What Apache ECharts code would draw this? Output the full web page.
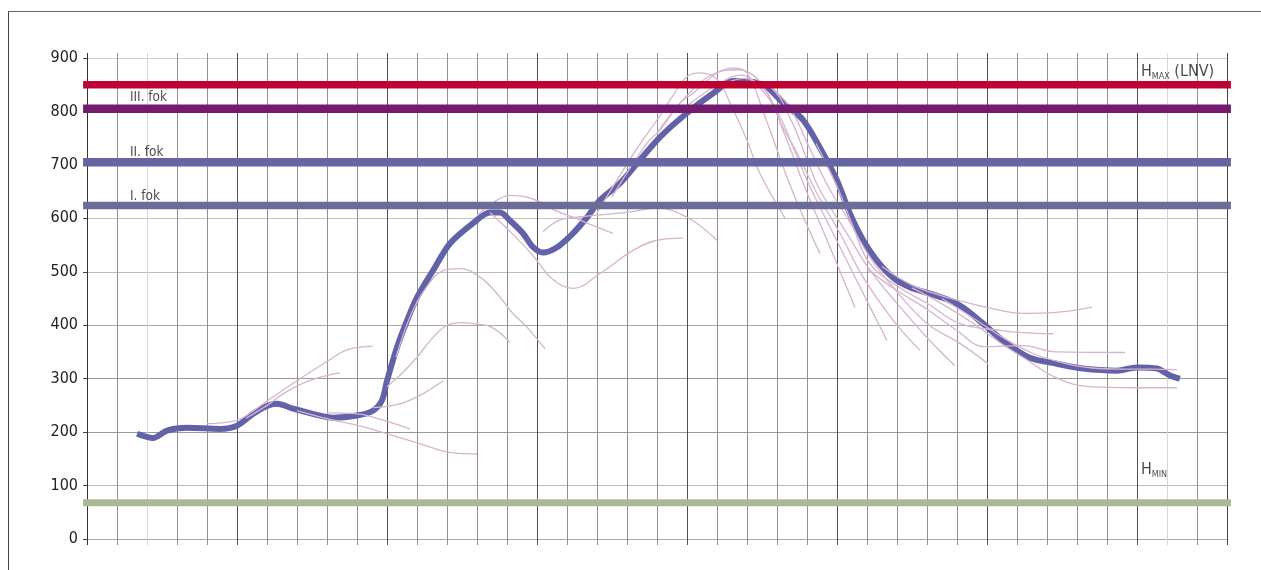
<!DOCTYPE html>
<html><head><meta charset="utf-8">
<script src="https://cdn.jsdelivr.net/npm/echarts@6/dist/echarts.min.js"></script>
<style>
html,body{margin:0;padding:0;background:#fff;}
#wrap{position:relative;width:1261px;height:570px;}
#frame{position:absolute;left:8px;top:11px;right:0;bottom:0;border-top:1.5px solid #666;border-left:1.5px solid #444;}
#chart{position:absolute;left:0;top:0;width:1261px;height:570px;}
</style></head>
<body><div id="wrap"><div id="frame"></div><div id="chart"></div></div>
<script>
// ---- data ----
const xMin = 0, xMax = 38;
const yTicks = [0,100,200,300,400,500,600,700,800,900];
const levels = { hmax: 850, fok3: 805, fok2: 705, fok1: 624, hmin: 68 };
const levelLabels = ['III. fok','II. fok','I. fok'];

const mainLine = [[1.67,197],[2.2,189],[2.67,203],[3.33,208],[4.43,206],[5,212],[5.53,234],[6,249],[6.33,253],[6.87,244],[7.53,234],[8.2,227],[9,231],[9.53,240],[9.83,259],[10,296],[10.33,358],[10.67,409],[11,452],[11.53,502],[12.1,553],[12.87,591],[13.43,611],[13.77,611],[14.1,596],[14.53,572],[14.87,546],[15.2,536],[15.67,546],[16.2,572],[16.67,602],[17.1,634],[17.77,666],[18.43,709],[19.1,752],[20,797],[20.87,834],[21.53,857],[22.2,855],[22.67,845],[23.2,816],[23.87,784],[24.53,722],[25,671],[25.43,609],[25.87,559],[26.33,521],[26.87,489],[27.43,471],[28.1,459],[28.77,446],[29.2,433],[29.87,403],[30.53,371],[31.43,339],[32.33,328],[33.2,319],[34.33,315],[35,321],[35.67,319],[36.1,306],[36.43,300]];

const p01 = [[4,216],[5,222],[5.5,238],[6,258],[7,296],[8,332],[8.67,354],[9.53,361]];
const p02 = [[5.3,226],[6,250],[6.6,274],[7.5,298],[8.43,311]];
const p03 = [[7,240],[8,225],[9,213],[10,197],[11,180],[12.2,161],[13,159]];
const p04 = [[8,236],[9,234],[10,220],[10.77,206]];
const p05 = [[9.53,246],[10.43,253],[11.2,272],[11.87,296]];
const p06 = [[10,285],[10.5,310],[11,340],[11.5,375],[12,400],[12.5,405],[13,402],[13.5,396],[14.1,368]];
const p07 = [[10.3,340],[10.8,420],[11.3,470],[11.87,502],[12.43,506],[13.1,490],[13.67,459],[14.2,422],[14.67,396],[15.27,356]];
const p08 = [[13.43,611],[14.2,570],[14.87,530],[15.5,487],[16.2,469],[17.1,497],[18.2,540],[19,559],[19.87,563]];
const p09 = [[13,605],[13.5,628],[14.1,643],[14.83,637],[15.6,615],[16.3,600],[16.67,591],[17.53,572]];
const p10 = [[15.2,575],[15.77,597],[16.5,603],[18,611],[19,619],[20,602],[21,559]];
const p11 = [[17,610],[18.3,728],[19,784],[19.5,827],[20,865],[20.43,872],[21,860],[21.5,808],[22,746],[22.43,684],[23.27,600]];
const p12 = [[17.5,640],[18.67,741],[19.1,765],[19.77,816],[20.2,834],[21,872],[21.53,881],[22,872],[22.6,790],[23.5,653],[24.43,534]];
const p13 = [[19,760],[20,830],[20.87,870],[21.7,878],[22.5,850],[23.33,746],[23.87,666],[24.67,559],[25.6,433]];
const p14 = [[20,810],[21,850],[21.8,868],[22.5,840],[23.1,790],[23.53,734],[24.1,659],[24.87,572],[25.77,471],[26.67,371]];
const p15 = [[21,845],[21.9,862],[22.6,840],[23.2,770],[23.67,722],[24.33,647],[25.1,572],[25.87,490],[26.87,409],[27.77,353]];
const p16 = [[22,856],[22.8,845],[23.5,780],[24,710],[24.43,653],[25.33,572],[26.1,503],[27,441],[28,377],[28.93,324]];
const p17 = [[22.7,850],[23.4,810],[24.1,730],[24.7,660],[25.33,602],[26.1,527],[26.87,471],[28,403],[29.1,366],[30.03,328]];
const p18 = [[24.3,740],[25,660],[25.5,590],[26.1,515],[27.1,470],[28,441],[29.1,403],[30.5,390],[31.2,386],[32.2,384]];
const p19 = [[26.5,510],[27.5,475],[28.5,455],[29.5,440],[30.1,432],[31.2,422],[32.3,424],[33.5,434]];
const p20 = [[26,505],[27,465],[28,430],[29,390],[29.9,360],[31.2,362],[32.3,350],[34.6,349]];
const p21 = [[28.5,450],[29.5,415],[30.5,378],[31.5,348],[32.5,330],[33.5,320],[34.5,318],[35.5,318],[36.33,317]];
const p22 = [[27.5,470],[28.5,440],[29.5,405],[30.5,365],[31.2,340],[32.3,302],[33.4,285],[35,283],[36.33,283]];
const forecasts = [p01,p02,p03,p04,p05,p06,p07,p08,p09,p10,p11,p12,p13,p14,p15,p16,p17,p18,p19,p20,p21,p22];

// ---- styling ----
const FONT = "'DejaVu Sans Condensed','Liberation Sans Narrow','DejaVu Sans',sans-serif";
const PINK = '#d6b4cf';
const xLineColors = [];
for (let u = xMin; u <= xMax; u++) {
  let c = '#909090';
  if (u === 0) c = '#333';
  else if (u === xMax) c = '#444';
  else if (u % 5 === 0) c = '#505050';
  else if (u === 2 || u === 36) c = '#d6d6d6';
  xLineColors.push(c);
}
const yLineColors = ['#aaa','#bbb','#999','#999','#aaa','#bbb','#c4c4c4','#999','#999','#cfcfcf'];

function band(val, color, width) {
  return {
    type: 'line', xAxisIndex: 0, yAxisIndex: 0, clip: false, silent: true,
    symbol: 'none', z: 5,
    data: [[xMin - 0.13, val], [xMax + 0.13, val]],
    lineStyle: { color: color, width: width, cap: 'butt' }
  };
}
function textMark(u, v, formatter, rich) {
  return {
    type: 'scatter', xAxisIndex: 0, yAxisIndex: 0, symbolSize: 0, silent: true, z: 6,
    data: [[u, v]],
    label: { show: true, position: 'right', distance: 0, formatter: formatter,
             fontFamily: FONT, fontSize: 13.5, color: '#1a1a1a', rich: rich }
  };
}

const series = [];
series.push({
  type: 'line', xAxisIndex: 0, yAxisIndex: 0, data: mainLine, symbol: 'none', smooth: 0.3, z: 2,
  lineStyle: { color: '#6262a8', width: 6 }
});
forecasts.forEach(d => series.push({
  type: 'line', xAxisIndex: 0, yAxisIndex: 0, data: d, symbol: 'none', smooth: 0.4, z: 3,
  lineStyle: { color: PINK, width: 1.3 }
}));
series.push(band(levels.hmax, '#bd0233', 7.5));
series.push(band(levels.fok3, '#741b6f', 8.5));
series.push(band(levels.fok2, '#6565a3', 8.5));
series.push(band(levels.fok1, '#6b6d98', 7.5));
series.push(band(levels.hmin, '#a9b897', 7));

series.push(textMark(1.43, 826, levelLabels[0]));
series.push(textMark(1.43, 724, levelLabels[1]));
series.push(textMark(1.43, 641, levelLabels[2]));
const hRich = { h: { fontFamily: FONT, fontSize: 16, color: '#1a1a1a', lineHeight: 22 },
                s: { fontFamily: FONT, fontSize: 9, color: '#1a1a1a', lineHeight: 22, padding: [10, 0, 0, 0] } };
series.push(textMark(35.13, 875, '{h|H}{s|MAX}{h| (LNV)}', hRich));
series.push(textMark(35.13, 129, '{h|H}{s|MIN}', hRich));

const chart = echarts.init(document.getElementById('chart'), null, { renderer: 'canvas' });
chart.setOption({
  animation: false,
  backgroundColor: 'transparent',
  grid: [
    { left: 87, right: 34, top: 58, bottom: 31 },
    { left: 87, right: 34, top: 53, bottom: 25 }
  ],
  xAxis: [
    { gridIndex: 0, type: 'value', min: xMin, max: xMax, interval: 1,
      axisLine: { show: false }, axisTick: { show: false }, axisLabel: { show: false }, splitLine: { show: false } },
    { gridIndex: 1, type: 'value', min: xMin, max: xMax, interval: 1,
      axisLine: { show: false }, axisTick: { show: false }, axisLabel: { show: false },
      splitLine: { show: true, lineStyle: { color: xLineColors, width: 1 } } }
  ],
  yAxis: [
    { gridIndex: 0, type: 'value', min: yTicks[0], max: yTicks[yTicks.length - 1], interval: 100,
      axisLine: { show: false },
      axisTick: { show: true, length: 4, lineStyle: { color: '#444' } },
      axisLabel: { fontFamily: FONT, fontSize: 16, color: '#222', margin: 9 },
      splitLine: { show: true, lineStyle: { color: yLineColors, width: 1 } } },
    { gridIndex: 1, type: 'value', min: 0, max: 1, show: false }
  ],
  series: series
});
</script></body></html>
